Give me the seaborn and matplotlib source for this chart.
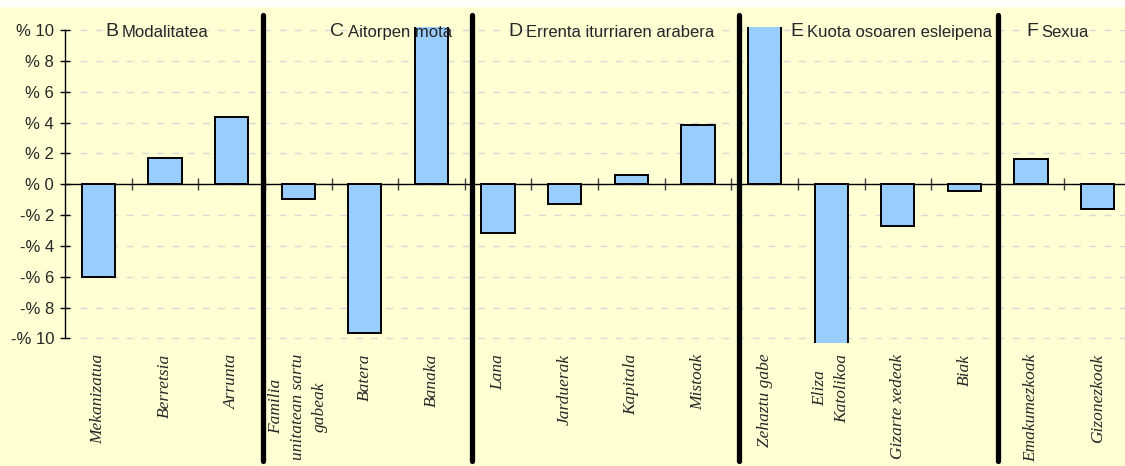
import numpy as np
import pandas as pd
import matplotlib
matplotlib.use('Agg')
import matplotlib.pyplot as plt
from matplotlib.patches import Rectangle
from matplotlib.ticker import FuncFormatter
import seaborn as sns

# --- Datuak ---
talde_letrak = ['B', 'C', 'D', 'E', 'F']
talde_izenak = ['Modalitatea', 'Aitorpen mota', 'Errenta iturriaren arabera',
                'Kuota osoaren esleipena', 'Sexua']
talde_tamainak = [3, 3, 4, 4, 2]
kategoriak = ['Mekanizatua', 'Berretsia', 'Arrunta',
              'Familia\nunitatean sartu\ngabeak', 'Batera', 'Banaka',
              'Lana', 'Jarduerak', 'Kapitala', 'Mistoak',
              'Zehaztu gabe', 'Eliza\nKatolikoa', 'Gizarte xedeak', 'Biak',
              'Emakumezkoak', 'Gizonezkoak']
# aldea (%), ardatzetik kanpo doazenak gutxi gorabeherakoak dira
aldeak = [-6.05, 1.71, 4.37,
          -0.97, -9.65, 12.5,
          -3.15, -1.30, 0.60, 3.83,
          16.0, -14.0, -2.68, -0.45,
          1.62, -1.63]
y_tikak = list(range(-10, 11, 2))

df = pd.DataFrame({'kategoria': kategoriak, 'aldea': aldeak,
                   'taldea': np.repeat(talde_letrak, talde_tamainak)})

# --- Itxura ---
HORIA = '#FFFFD4'
URDINA = '#99CCFF'
W, H = 1125, 466

sns.set_style('white')
plt.rcParams['font.family'] = ['Liberation Sans', 'DejaVu Sans']

fig = plt.figure(figsize=(W / 100, H / 100), dpi=100)
fig.add_artist(Rectangle((0, 0), 1, 1 - 7 / H, transform=fig.transFigure,
                         fc=HORIA, ec='none', zorder=-10))
ax = fig.add_axes([65 / W, 1 - 343 / H, (1131 - 65) / W, (343 - 27) / H])
ax.set_facecolor('none')

sns.barplot(data=df, x='kategoria', y='aldea', order=kategoriak, color=URDINA,
            saturation=1, width=0.5, edgecolor='black', linewidth=1.4,
            errorbar=None, ax=ax, zorder=3)

ax.set_xlim(-0.5, len(kategoriak) - 0.5)
ax.set_ylim(-10.3, 10.2)
ax.set_xlabel('')
ax.set_ylabel('')

for s in ['top', 'right']:
    ax.spines[s].set_visible(False)
ax.spines['bottom'].set_position(('data', 0))
ax.spines['bottom'].set_color('black')
ax.spines['bottom'].set_linewidth(1)
ax.spines['left'].set_bounds(-10, 10)
ax.spines['left'].set_color('black')
ax.spines['left'].set_linewidth(1)

# y ardatza
ax.set_yticks(y_tikak)
ax.yaxis.set_major_formatter(FuncFormatter(
    lambda v, p: f'% {v:g}' if v >= 0 else f'-% {abs(v):g}'))
ax.tick_params(axis='y', direction='inout', length=7.5, width=1,
               color='black', labelsize=12, pad=4, left=True)
ax.yaxis.grid(True, ls=(0, (5, 6)), color='#D9D9D9', lw=1)
ax.set_axisbelow(True)

# x ardatza
ax.set_xticks(range(len(kategoriak)))
ax.set_xticklabels(kategoriak, rotation=90, family=['Liberation Serif', 'DejaVu Serif'],
                   style='italic', fontsize=12.5, va='top', ha='center',
                   multialignment='center', linespacing=1.5)
ax.tick_params(axis='x', which='major', length=0, pad=122, bottom=True)
ax.set_xticks(np.arange(0.5, len(kategoriak) - 1, 1), minor=True)
ax.tick_params(axis='x', which='minor', direction='inout', length=8, width=1,
               color='#404040', bottom=True)

# taldeen arteko marra lodiak
mugak = np.cumsum(talde_tamainak)[:-1] - 0.5 + np.array([-0.03, 0.11, 0.12, 0.01])
for m in mugak:
    ax.axvline(m, ymin=-0.373, ymax=1.038, color='black', lw=3.8,
               clip_on=False, zorder=6)

# taldeen izenburuak
izenburu_x = [0.10, 3.48, 6.15, 10.39, 13.93]
for letra, izena, x in zip(talde_letrak, talde_izenak, izenburu_x):
    t = ax.text(x, 0.9725, letra, transform=ax.get_xaxis_transform(),
                fontsize=14, va='baseline', ha='left', zorder=7)
    ax.annotate(izena, xy=(1, 0), xycoords=t, xytext=(2.5, 0),
                textcoords='offset points', fontsize=12, va='bottom',
                ha='left', zorder=7)

fig.savefig('out.png', dpi=100, facecolor='white')
